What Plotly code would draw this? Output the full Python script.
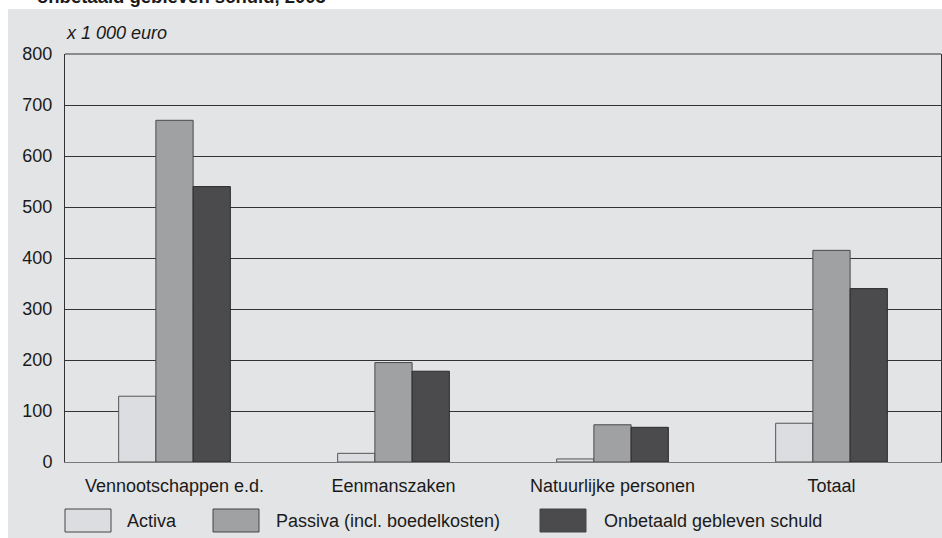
import plotly.graph_objects as go

categories = ["Vennootschappen e.d.", "Eenmanszaken", "Natuurlijke personen", "Totaal"]
activa = [129, 17, 6, 76]
passiva = [670, 195, 73, 415]
onbetaald = [540, 178, 68, 340]
series_names = ["Activa", "Passiva (incl. boedelkosten)", "Onbetaald gebleven schuld"]
y_ticks = [0, 100, 200, 300, 400, 500, 600, 700, 800]

colors = ["#dcdde0", "#a0a1a3", "#4b4b4d"]
edges = ["#555555", "#4a4a4a", "#2a2a2a"]
W, H = 942, 538
# plot area in screen pixels
SX0, SX1, SY0, SY1 = 65, 941, 54, 462
L, T, R, B = SX0, SY0, W - SX1, H - SY1
pw = SX1 - SX0
ph = SY1 - SY0

def px(x):  # screen x -> paper
    return (x - SX0) / pw

def py(y):  # screen y -> paper
    return (SY1 - y) / ph

fig = go.Figure()
for name, vals, col, ec in zip(series_names, [activa, passiva, onbetaald], colors, edges):
    fig.add_trace(go.Bar(x=categories, y=vals, name=name,
                         marker=dict(color=col, line=dict(color=ec, width=1)),
                         showlegend=False))

font = "Liberation Sans, Arial, sans-serif"
tc = "#1a1a1a"
shapes = []
# grey panel background (white strip at top and left)
shapes.append(dict(type="rect", xref="paper", yref="paper", x0=px(8), x1=px(W + 5), y0=py(9), y1=py(H + 5),
                   fillcolor="#e3e4e5", line=dict(width=0), layer="below"))
# top frame line (800)
shapes.append(dict(type="line", xref="paper", yref="paper", x0=0, x1=1, y0=1, y1=1,
                   line=dict(color="#333333", width=1)))
annotations = []
# legend boxes
leg = [(65, 111, 125), (213, 259, 274), (540, 586, 602)]
for (x0, x1, tx), name, col in zip(leg, series_names, colors):
    shapes.append(dict(type="rect", xref="paper", yref="paper", x0=px(x0), x1=px(x1), y0=py(509), y1=py(532),
                       fillcolor=col, line=dict(color="#444444", width=1)))
    annotations.append(dict(xref="paper", yref="paper", x=px(tx), y=py(521), text=name, showarrow=False,
                            xanchor="left", yanchor="middle", font=dict(family=font, size=18, color=tc)))
annotations.append(dict(xref="paper", yref="paper", x=px(64), y=py(33), text="<i>x 1 000 euro</i>", showarrow=False,
                        xanchor="left", yanchor="middle", font=dict(family=font, size=18, color=tc)))
annotations.append(dict(xref="paper", yref="paper", x=px(35), y=py(9), text="<b>onbetaald gebleven schuld, 2005</b>",
                        showarrow=False, xanchor="left", yanchor="bottom", font=dict(family=font, size=18.5, color=tc)))

fig.update_layout(
    width=W, height=H,
    margin=dict(l=L, r=R, t=T, b=B, pad=0),
    paper_bgcolor="white",
    plot_bgcolor="white",
    barmode="group",
    bargap=0.49,
    bargroupgap=0,
    shapes=shapes,
    annotations=annotations,
    font=dict(family=font, size=18, color=tc),
    xaxis=dict(showgrid=False, showline=True, linecolor="#7a7a7a", linewidth=1, mirror=False,
               ticks="outside", ticklen=7, tickcolor="rgba(0,0,0,0)",
               tickfont=dict(family=font, size=18, color=tc)),
    yaxis=dict(range=[0, 800], tickvals=y_ticks, showgrid=True, gridcolor="#333333", gridwidth=1,
               zeroline=False, showline=True, linecolor="#333333", linewidth=1, mirror=True,
               ticks="outside", ticklen=8, tickcolor="rgba(0,0,0,0)",
               tickfont=dict(family=font, size=18, color=tc)),
)

fig.write_html("out.html", config={"displayModeBar": False},
               post_script="document.body.style.margin='0px';")
